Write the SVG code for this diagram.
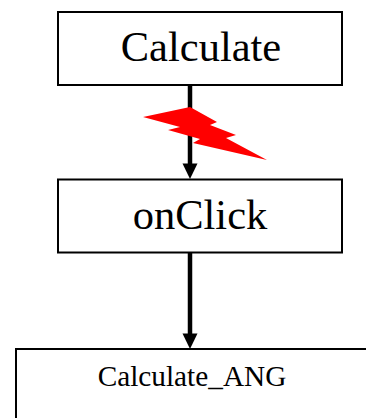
<svg xmlns="http://www.w3.org/2000/svg" width="366" height="418" viewBox="0 0 366 418">
<style>
.b{fill:#fff;stroke:#000;stroke-width:2}
.t{font-family:"Liberation Serif","Times New Roman",serif;fill:#000;text-anchor:middle}
.c{stroke:#000;stroke-width:4.500;fill:none}
</style>
<rect width="366" height="418" fill="#fff"/>
<g id="node-calculate"><rect class="b" x="58" y="12" width="284" height="73"/><text class="t" x="201" y="61" font-size="42.500">Calculate</text></g>
<g id="node-onclick"><rect class="b" x="58" y="179.500" width="284" height="73"/><text class="t" x="200" y="229" font-size="42.500">onClick</text></g>
<g id="node-calculate-ang"><rect class="b" x="16" y="349" width="360" height="80"/><text class="t" x="192" y="386" font-size="29.300">Calculate_ANG</text></g>
<g id="connectors">
<path class="c" d="M190 84V166"/><path d="M182.500 163.500H197.500L190 179Z"/>
<path class="c" d="M190 252V336"/><path d="M182.500 333.500H197.500L190 349Z"/>
</g>
<polygon id="lightning" fill="#f00" points="143,117 190,107 217,122 210,125 236,135 226,138 267,160 193,143 200,139 168,130 180,127"/>
</svg>
